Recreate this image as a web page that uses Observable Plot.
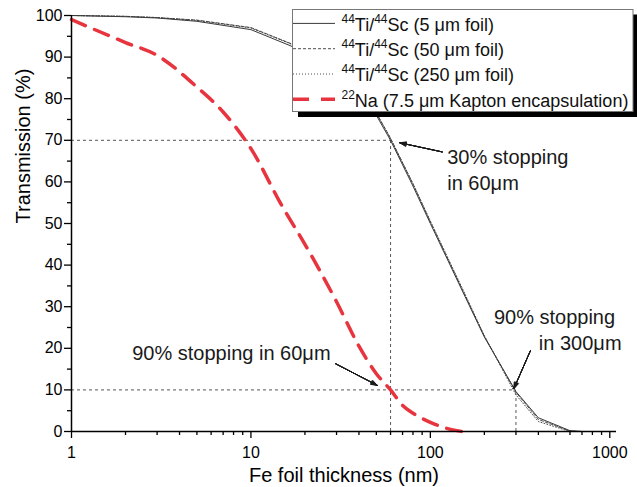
<!DOCTYPE html>
<html><head><meta charset="utf-8">
<script src="https://cdn.jsdelivr.net/npm/d3@7"></script>
<script src="https://cdn.jsdelivr.net/npm/@observablehq/plot@0.6"></script>
<style>
body{margin:0;background:#fff;}
#chart{width:637px;height:487px;}
</style></head><body><div id="chart"></div>
<script>
// ---- data ----
const tiX   = [1, 2, 3, 5, 10, 20, 30, 40, 50, 60, 80, 100, 150, 200, 300, 400, 600, 700];
const ti5   = [100, 99.7, 99.4, 98.6, 96.6, 91.3, 86.5, 81.5, 76.0, 70.0, 59.0, 50.0, 34.0, 22.7, 9.6, 3.3, 0.2, 0];
const ti50  = [100, 99.8, 99.5, 98.9, 97.1, 91.9, 87.1, 82.1, 76.6, 70.5, 59.5, 50.4, 34.3, 22.9, 9.4, 2.9, 0.1, 0];
const ti250 = [100, 99.8, 99.5, 98.8, 97.0, 91.8, 87.0, 82.0, 76.5, 70.4, 59.6, 50.6, 34.6, 23.0, 8.8, 2.4, 0, 0];
const naX   = [1, 2, 3, 5, 7, 10, 15, 20, 30, 40, 50, 60, 70, 80, 100, 120, 150];
const naY   = [99, 93.5, 90.4, 82.8, 76.8, 68, 54, 45, 31.2, 20.5, 13.9, 10, 6.3, 4.4, 2.2, 0.9, 0];

const xMajor = [1, 10, 100, 1000];
const xMinor = [2,3,4,5,6,7,8,9,20,30,40,50,60,70,80,90,200,300,400,500,600,700,800,900];
const yMajor = [0,10,20,30,40,50,60,70,80,90,100];
const yMinor = [5,15,25,35,45,55,65,75,85,95];

const refH = [{y:70, x1:1, x2:60}, {y:10, x1:1, x2:300}];
const refV = [{x:60, y1:0, y2:70}, {x:300, y1:0, y2:10}];

const notes = [
  {x:124.2, y:64.4, t:"30% stopping"},
  {x:124.2, y:58.1, t:"in 60\u03bcm"},
  {x:2.18,  y:17.1, t:"90% stopping in 60\u03bcm"},
  {x:226,   y:25.9, t:"90% stopping"},
  {x:402.5, y:19.5, t:"in 300\u03bcm"}
];
const arrows = [
  {x1:116.5, y1:67.2, x2:67.6, y2:69.4},
  {x1:29.6,  y1:16.3, x2:50.6, y2:11.1},
  {x1:361.8, y1:19.5, x2:292,  y2:10.3}
];

const xTitle = "Fe foil thickness (nm)";
const yTitle = "Transmission (%)";
const legendSup  = [["44","44"], ["44","44"], ["44","44"], ["22"]];
const legendMain = [["Ti/","Sc (5 \u03bcm foil)"], ["Ti/","Sc (50 \u03bcm foil)"], ["Ti/","Sc (250 \u03bcm foil)"], ["Na (7.5 \u03bcm Kapton encapsulation)"]];

// ---- build ----
const mk = (ys) => tiX.map((x, i) => ({x, y: ys[i]}));
const naData = naX.map((x, i) => ({x, y: naY[i]}));
const FONT = "'Liberation Sans', Arial, Helvetica, sans-serif";
const RED = "#e8343e";
const GREY = "#3a3a3a";

const plot = Plot.plot({
  width: 637, height: 487,
  marginLeft: 71, marginRight: 21, marginTop: 15, marginBottom: 56,
  style: {fontFamily: FONT, fontSize: "16px", color: "#000", background: "#fff"},
  x: {type: "log", domain: [1, 1090], axis: null},
  y: {domain: [0, 100], axis: null},
  marks: [
    Plot.ruleY(refH, {y: "y", x1: "x1", x2: "x2", stroke: "#444", strokeWidth: 0.9, strokeDasharray: "3,3"}),
    Plot.ruleX(refV, {x: "x", y1: "y1", y2: "y2", stroke: "#444", strokeWidth: 0.9, strokeDasharray: "3,3"}),
    Plot.line(mk(ti250), {x: "x", y: "y", stroke: GREY, strokeWidth: 0.9, strokeDasharray: "1,2"}),
    Plot.line(mk(ti50), {x: "x", y: "y", stroke: GREY, strokeWidth: 0.9, strokeDasharray: "3,2"}),
    Plot.line(mk(ti5), {x: "x", y: "y", stroke: GREY, strokeWidth: 1}),
    Plot.line(naData, {x: "x", y: "y", curve: "monotone-x", stroke: RED, strokeWidth: 3.5, strokeDasharray: "15,10"}),
    Plot.ruleY([0], {stroke: "#000", strokeWidth: 1.5}),
    Plot.ruleX([1], {stroke: "#000", strokeWidth: 1.5}),
    Plot.axisX({ticks: xMajor, tickSize: 7, tickPadding: 8, tickFormat: d => String(d), fontSize: 16, strokeWidth: 1.3, label: null, fill: "#000"}),
    Plot.axisX({ticks: xMinor, tickSize: 4, tickFormat: () => "", strokeWidth: 1.3, label: null}),
    Plot.axisY({ticks: yMajor, tickSize: 7, tickPadding: 2, tickFormat: d => String(d), fontSize: 16, strokeWidth: 1.3, label: null, fill: "#000"}),
    Plot.axisY({ticks: yMinor, tickSize: 4, tickFormat: () => "", strokeWidth: 1.3, label: null}),
    Plot.text([xTitle], {text: d => d, frameAnchor: "bottom", dy: 50.7, lineAnchor: "bottom", fontSize: 20, fill: "#000"}),
    Plot.text([yTitle], {text: d => d, frameAnchor: "left", rotate: -90, dx: -48, fontSize: 20, fill: "#000"}),
    Plot.text(notes, {x: "x", y: "y", text: "t", textAnchor: "start", lineAnchor: "bottom", fontSize: 20, fill: "#1a1a1a"}),
    ...[8, 16, 24, 32, 40].map(a =>
      Plot.arrow(arrows, {x1: "x1", y1: "y1", x2: "x2", y2: "y2", stroke: "#1a1a1a", strokeWidth: 1, headLength: 10, headAngle: a}))
  ]
});
document.getElementById("chart").appendChild(plot);

// ---- legend (inside the plot, drawn into the same svg) ----
const svg = d3.select(plot);
const lg = svg.append("g").attr("font-family", FONT).attr("text-anchor", "start");
lg.append("rect").attr("x", 298).attr("y", 14.5).attr("width", 345).attr("height", 102.5).attr("fill", "#000");
lg.append("rect").attr("x", 292.5).attr("y", 9.5).attr("width", 340.5).attr("height", 102).attr("fill", "#fff").attr("stroke", "#777").attr("stroke-width", 1);
const lineStyles = [
  {stroke: GREY, w: 1, dash: null},
  {stroke: GREY, w: 0.9, dash: "3,2"},
  {stroke: GREY, w: 0.9, dash: "1,2"},
  {stroke: RED, w: 3.5, dash: "16,12"}
];
legendMain.forEach((parts, i) => {
  const base = 30.7 + i * 25.3;
  const st = lineStyles[i];
  const ln = lg.append("line").attr("x1", 293).attr("x2", 335).attr("y1", base - 7.3).attr("y2", base - 7.3)
    .attr("stroke", st.stroke).attr("stroke-width", st.w);
  if (st.dash) ln.attr("stroke-dasharray", st.dash);
  const t = lg.append("text").attr("x", 341.5).attr("y", base).attr("font-size", 18).attr("fill", "#111")
    .attr("text-anchor", "start");
  parts.forEach((p, j) => {
    t.append("tspan").attr("font-size", 12).attr("dy", -8).text(legendSup[i][j]);
    t.append("tspan").attr("font-size", 18).attr("dy", 8).text(p);
  });
});
</script>
</body></html>
